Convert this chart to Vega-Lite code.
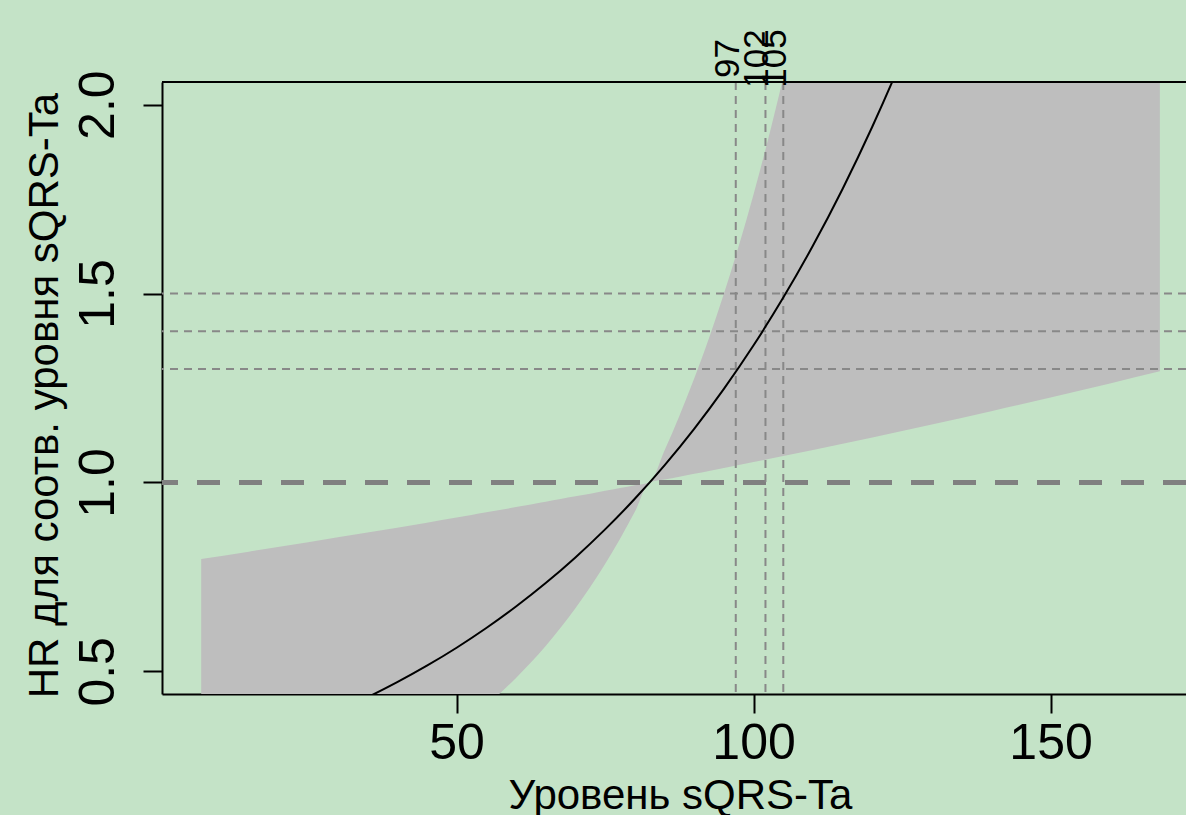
{
  "$schema": "https://vega.github.io/schema/vega-lite/v6.json",
  "width": 1024,
  "height": 612,
  "autosize": {"type": "none"},
  "padding": {"left": 162, "top": 82, "right": 0, "bottom": 121},
  "background": "#C4E3C7",
  "config": {
    "view": {"stroke": null},
    "font": "Liberation Sans",
    "axisX": {
      "grid": false,
      "domainColor": "black", "domainWidth": 2,
      "tickColor": "black", "tickWidth": 2, "tickSize": 19,
      "labelFontSize": 50, "labelColor": "black", "labelBaseline": "alphabetic", "labelPadding": 45,
      "labelFlush": false, "labelOverlap": false,
      "titleFontSize": 42, "titleFontWeight": "normal", "titleColor": "black",
      "titleX": 518, "titleY": 114, "titleBaseline": "alphabetic", "titleAlign": "center"
    },
    "axisY": {
      "grid": false,
      "domainColor": "black", "domainWidth": 2,
      "tickColor": "black", "tickWidth": 2, "tickSize": 19,
      "labelFontSize": 50, "labelColor": "black", "labelAngle": 270, "labelAlign": "center",
      "labelBaseline": "alphabetic", "labelPadding": 30, "labelFlush": false, "labelOverlap": false,
      "titleFontSize": 42, "titleFontWeight": "normal", "titleColor": "black", "titleAngle": 270,
      "titleX": -105, "titleY": 313, "titleBaseline": "alphabetic", "titleAlign": "center"
    }
  },
  "datasets": {
    "ci": [
      {"x": 7.0, "lo": 0.0869, "hi": 0.7976},
      {"x": 15, "lo": 0.1123, "hi": 0.8167},
      {"x": 25, "lo": 0.1552, "hi": 0.8416},
      {"x": 35, "lo": 0.2146, "hi": 0.8672},
      {"x": 45, "lo": 0.2967, "hi": 0.8936},
      {"x": 50, "lo": 0.3489, "hi": 0.9071},
      {"x": 52.5, "lo": 0.3783, "hi": 0.9139},
      {"x": 55, "lo": 0.4102, "hi": 0.9208},
      {"x": 57.5, "lo": 0.4449, "hi": 0.9277},
      {"x": 60, "lo": 0.4824, "hi": 0.9347},
      {"x": 62.5, "lo": 0.5231, "hi": 0.9418},
      {"x": 65, "lo": 0.5672, "hi": 0.9489},
      {"x": 67.5, "lo": 0.6151, "hi": 0.956},
      {"x": 70, "lo": 0.667, "hi": 0.9632},
      {"x": 72.5, "lo": 0.7233, "hi": 0.9704},
      {"x": 75, "lo": 0.7843, "hi": 0.9778},
      {"x": 77.5, "lo": 0.8504, "hi": 0.9851},
      {"x": 80, "lo": 0.9222, "hi": 0.9925},
      {"x": 82.5, "lo": 1, "hi": 1},
      {"x": 85, "lo": 1.0075, "hi": 1.0844},
      {"x": 87.5, "lo": 1.0151, "hi": 1.1759},
      {"x": 90, "lo": 1.0228, "hi": 1.2751},
      {"x": 92.5, "lo": 1.0305, "hi": 1.3826},
      {"x": 95, "lo": 1.0382, "hi": 1.4993},
      {"x": 97.5, "lo": 1.046, "hi": 1.6258},
      {"x": 100, "lo": 1.0539, "hi": 1.763},
      {"x": 102.5, "lo": 1.0618, "hi": 1.9117},
      {"x": 105, "lo": 1.0698, "hi": 2.073},
      {"x": 107.5, "lo": 1.0779, "hi": 2.2479},
      {"x": 110, "lo": 1.086, "hi": 2.4375},
      {"x": 120, "lo": 1.1191, "hi": 3.37},
      {"x": 130, "lo": 1.1532, "hi": 4.66},
      {"x": 140, "lo": 1.1885, "hi": 6.44},
      {"x": 150, "lo": 1.2246, "hi": 8.9},
      {"x": 160, "lo": 1.2619, "hi": 12.3},
      {"x": 168.4, "lo": 1.2941, "hi": 16.2}
    ],
    "hr": [
      {"x": 30, "hi": 0.3948},
      {"x": 35, "hi": 0.4314},
      {"x": 40, "hi": 0.4713},
      {"x": 45, "hi": 0.5149},
      {"x": 50, "hi": 0.5625},
      {"x": 55, "hi": 0.6146},
      {"x": 60, "hi": 0.6715},
      {"x": 65, "hi": 0.7336},
      {"x": 70, "hi": 0.8015},
      {"x": 75, "hi": 0.8757},
      {"x": 80, "hi": 0.9567},
      {"x": 85, "hi": 1.0453},
      {"x": 90, "hi": 1.142},
      {"x": 95, "hi": 1.2477},
      {"x": 100, "hi": 1.3631},
      {"x": 105, "hi": 1.4893},
      {"x": 110, "hi": 1.6271},
      {"x": 115, "hi": 1.7776},
      {"x": 120, "hi": 1.9422},
      {"x": 125, "hi": 2.1219},
      {"x": 130, "hi": 2.318}
    ],
    "hlines": [{"hi": 1.3}, {"hi": 1.4}, {"hi": 1.5}],
    "vlines": [{"x": 97, "lab": "97"}, {"x": 102, "lab": "102"}, {"x": 105, "lab": "105"}],
    "ref": [{"hi": 1}],
    "top": [{"hi": 2.06}]
  },
  "layer": [
    {
      "data": {"name": "ci"},
      "mark": {"type": "area", "color": "#BEBEBE", "clip": true, "interpolate": "monotone"},
      "encoding": {
        "x": {
          "field": "x", "type": "quantitative", "title": "Уровень sQRS-Ta",
          "scale": {"domain": [0.4, 172.8], "nice": false, "zero": false},
          "axis": {"values": [50, 100, 150]}
        },
        "y": {
          "field": "hi", "type": "quantitative", "title": "HR для соотв. уровня sQRS-Ta",
          "scale": {"domain": [0.44, 2.06], "nice": false, "zero": false},
          "axis": {"values": [0.5, 1, 1.5, 2], "format": ".1f"}
        },
        "y2": {"field": "lo"}
      }
    },
    {
      "data": {"name": "ref"},
      "mark": {"type": "rule", "color": "#808080", "strokeWidth": 5, "strokeDash": [23, 19]},
      "encoding": {
        "y": {"field": "hi", "type": "quantitative", "title": "HR для соотв. уровня sQRS-Ta"}
      }
    },
    {
      "data": {"name": "hlines"},
      "mark": {"type": "rule", "color": "#888888", "strokeWidth": 2, "strokeDash": [8, 6]},
      "encoding": {
        "y": {"field": "hi", "type": "quantitative", "title": "HR для соотв. уровня sQRS-Ta"}
      }
    },
    {
      "data": {"name": "vlines"},
      "mark": {"type": "rule", "color": "#888888", "strokeWidth": 2, "strokeDash": [8, 6]},
      "encoding": {
        "x": {"field": "x", "type": "quantitative", "title": "Уровень sQRS-Ta"}
      }
    },
    {
      "data": {"name": "hr"},
      "mark": {"type": "line", "color": "black", "strokeWidth": 2, "clip": true, "interpolate": "monotone"},
      "encoding": {
        "x": {"field": "x", "type": "quantitative", "title": "Уровень sQRS-Ta"},
        "y": {"field": "hi", "type": "quantitative", "title": "HR для соотв. уровня sQRS-Ta"}
      }
    },
    {
      "data": {"name": "top"},
      "mark": {"type": "rule", "color": "black", "strokeWidth": 2},
      "encoding": {
        "y": {"field": "hi", "type": "quantitative", "title": "HR для соотв. уровня sQRS-Ta"}
      }
    },
    {
      "data": {"name": "vlines"},
      "mark": {"type": "text", "angle": 270, "align": "center", "baseline": "alphabetic", "dy": 3, "fontSize": 35, "color": "black"},
      "encoding": {
        "x": {"field": "x", "type": "quantitative", "title": "Уровень sQRS-Ta"},
        "y": {"datum": 2.122, "type": "quantitative"},
        "text": {"field": "lab"}
      }
    }
  ]
}
